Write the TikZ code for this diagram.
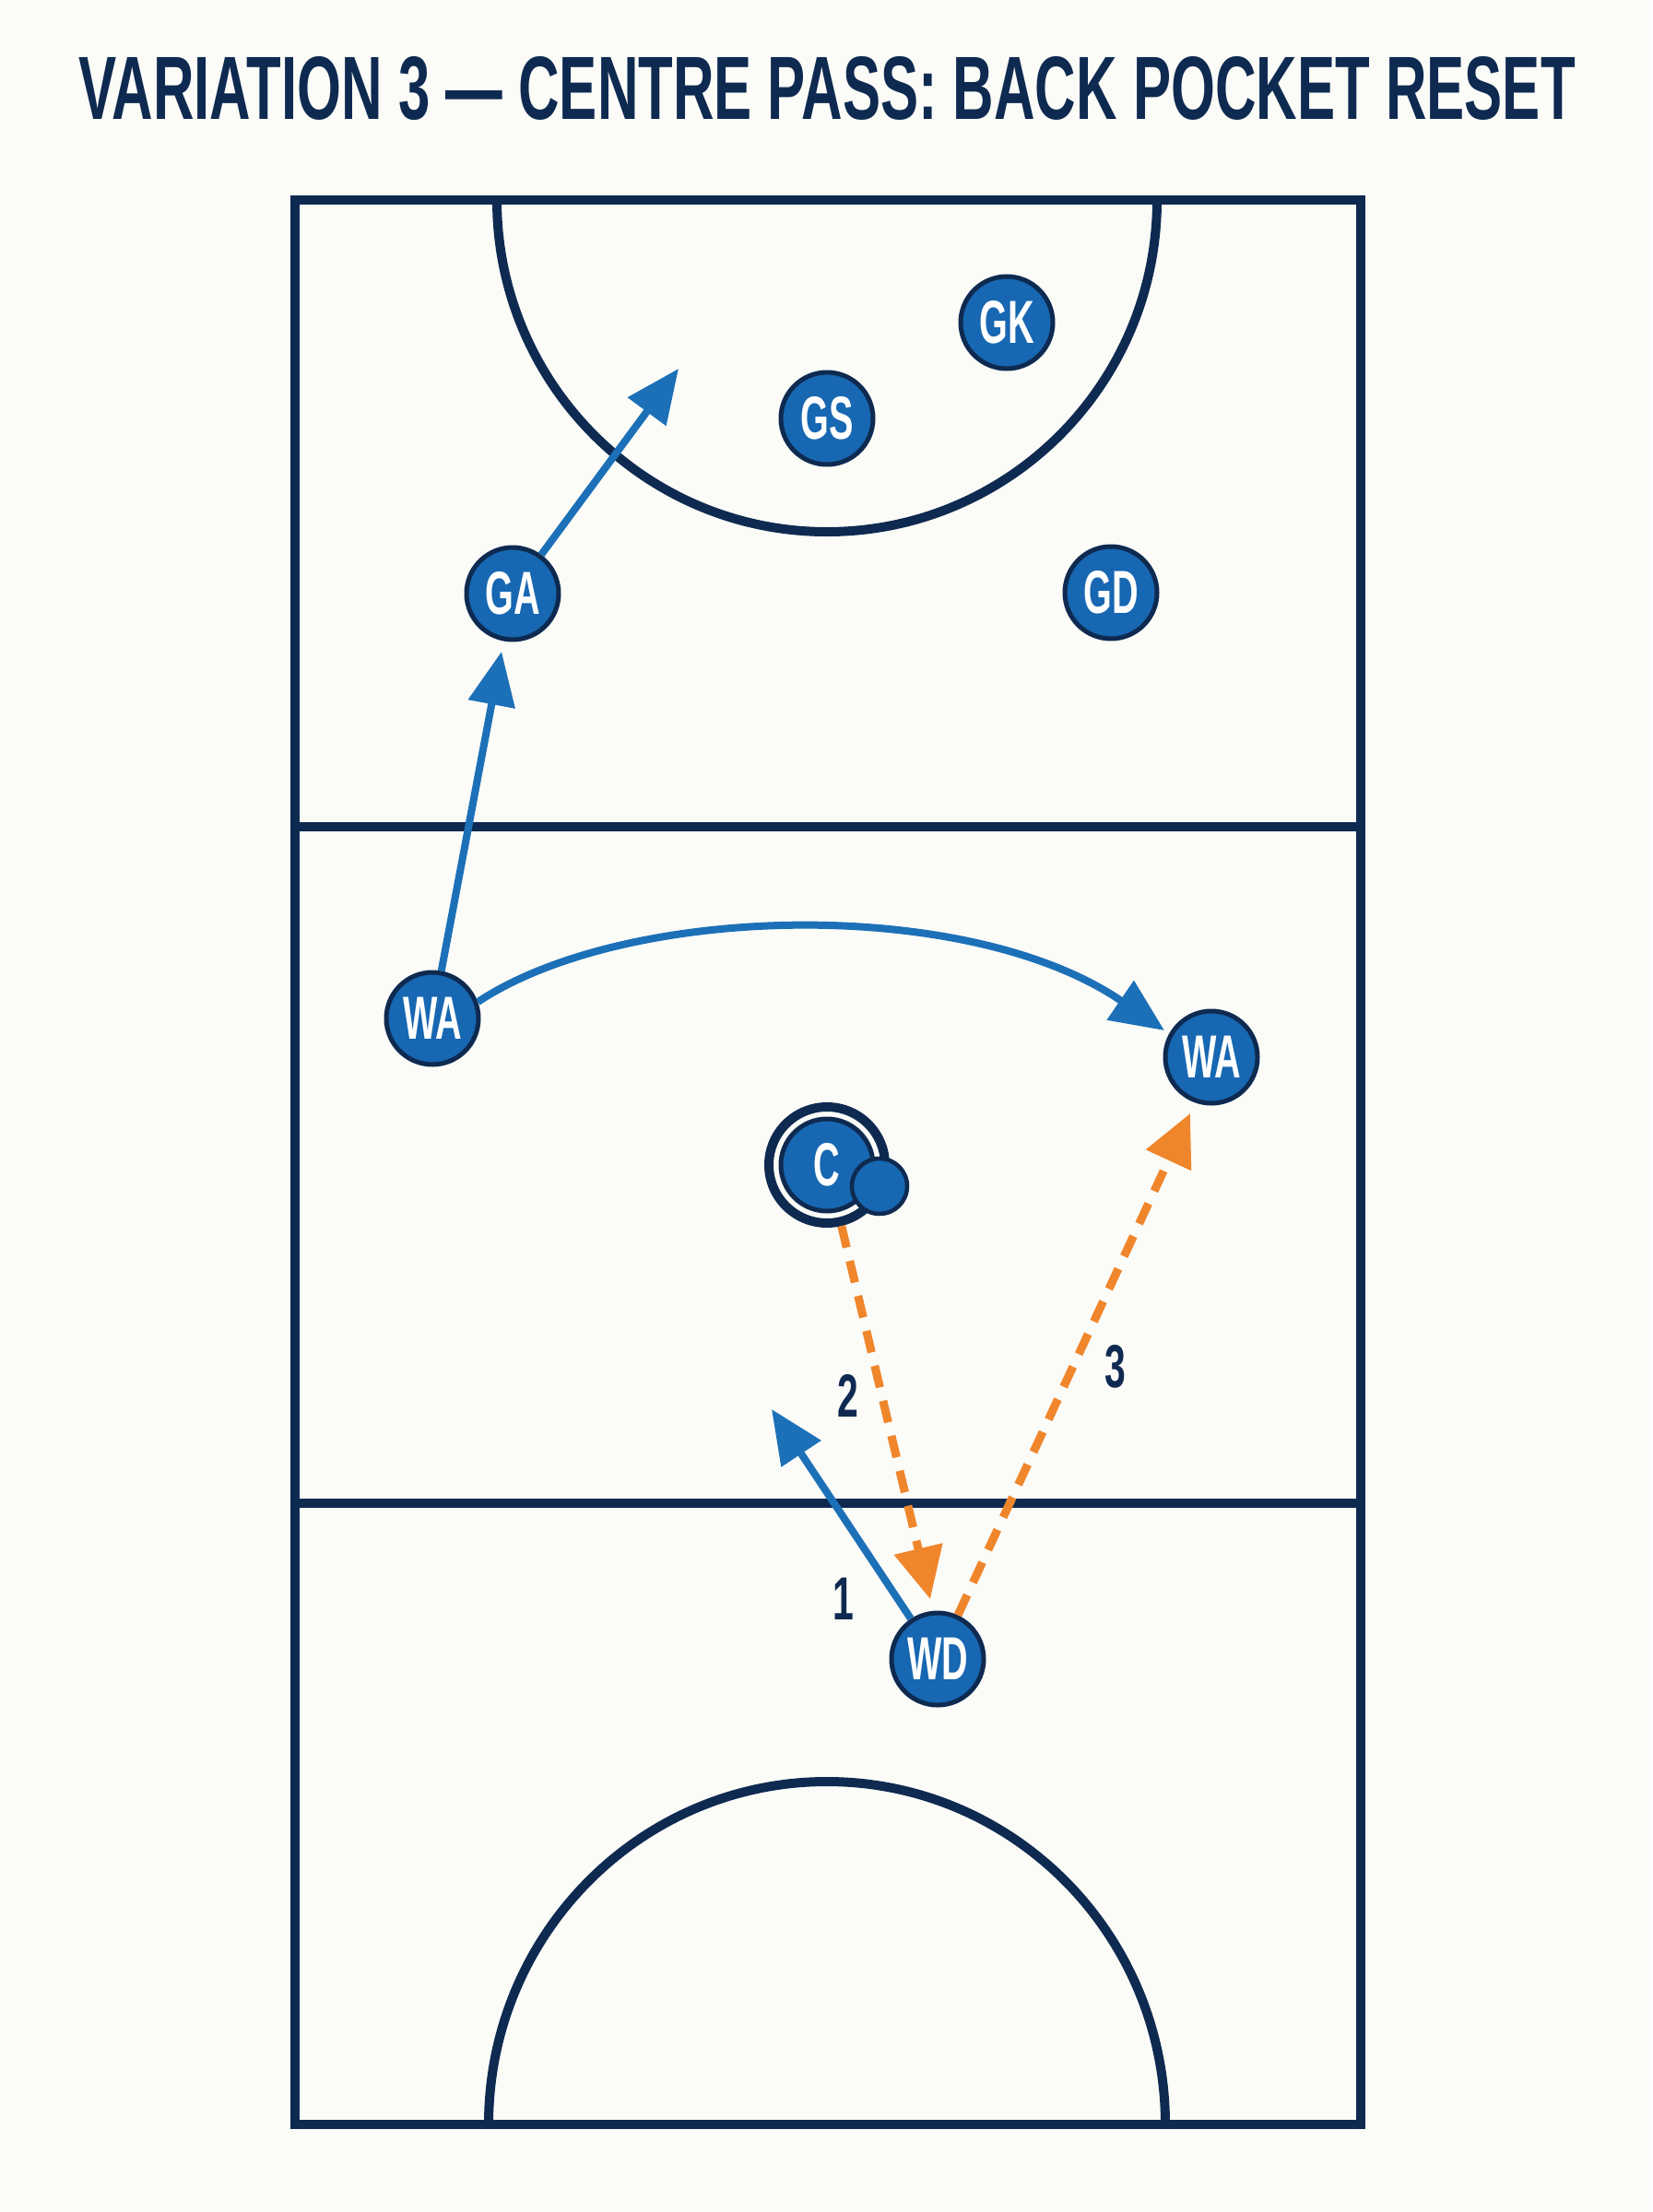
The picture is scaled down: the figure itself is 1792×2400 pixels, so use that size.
\documentclass[tikz,border=0pt]{standalone}
\usepackage{fontspec}
\usepackage{graphicx}
\setmainfont{Liberation Sans}
\usetikzlibrary{arrows.meta}
\definecolor{bgc}{HTML}{FBFBF8}
\definecolor{navy}{HTML}{0E2A50}
\definecolor{nodeblue}{HTML}{1767B2}
\definecolor{arrowblue}{HTML}{1C70B8}
\definecolor{passorange}{HTML}{F0862C}
\newcommand{\plabel}[1]{\scalebox{0.6}[1]{\fontsize{66}{66}\selectfont\bfseries #1}}
\newcommand{\nlabel}[1]{\scalebox{0.62}[1]{\fontsize{66}{66}\selectfont\bfseries #1}}
\tikzset{
  court/.style={draw=navy, line width=10pt},
  player/.style={circle, minimum size=100pt, inner sep=0pt, fill=nodeblue, draw=navy, line width=5pt, text=white},
  runarrow/.style={draw=arrowblue, line width=8pt, -{Triangle[length=58pt,width=50pt]}},
  passarrow/.style={draw=passorange, line width=9pt, dash pattern=on 24pt off 15pt, -{Triangle[length=56pt,width=52pt]}},
  numlabel/.style={text=navy, inner sep=0pt}
}
\begin{document}
\begin{tikzpicture}[x=1pt, y=-1pt]
\fill[bgc] (0,0) rectangle (1792,2400);
\useasboundingbox (0,0) rectangle (1792,2400);
% title
\node[text=navy, inner sep=0pt] (title) at (897,96) {\resizebox{1623pt}{68pt}{\bfseries VARIATION 3 — CENTRE PASS: BACK POCKET RESET}};
% court
\draw[court] (320,217) rectangle (1476,2305);
\draw[court] (320,897) -- (1476,897);
\draw[court] (320,1631) -- (1476,1631);
\draw[court] (539,217) arc[start angle=180, end angle=0, x radius=358, y radius=360];
\draw[court] (530,2305) arc[start angle=180, end angle=360, x radius=367, y radius=372];
% players
\node[player] (GK) at (1092,350) {\plabel{GK}};
\node[player] (GS) at (897,454) {\plabel{GS}};
\node[player] (GA) at (556,644) {\plabel{GA}};
\node[player] (GD) at (1205,643) {\plabel{GD}};
\node[player] (WAL) at (469,1105) {\plabel{WA}};
\node[player] (WAR) at (1314,1147) {\plabel{WA}};
\node[player] (WD) at (1017,1800) {\plabel{WD}};
\node[circle, minimum size=126pt, inner sep=0pt, draw=navy, line width=10pt] (Cring) at (897,1264) {};
\node[player] (C) at (897,1264) {\plabel{C}};
\node[circle, minimum size=60pt, inner sep=0pt, fill=nodeblue, draw=navy, line width=4.5pt] (ball) at (954,1287) {};
% free ends
\coordinate (gaT) at (736,400);
\coordinate (gaIn) at (544,707);
\coordinate (warT) at (1263,1118);
\coordinate (wdRun) at (837,1529);
\coordinate (wdIn) at (1009,1735);
\coordinate (warIn) at (1291,1208);
% runs
\draw[runarrow] (GA) -- (gaT);
\draw[runarrow] (WAL) -- (gaIn);
\draw[runarrow] (WAL.20) .. controls (680,980) and (1050,972) .. (warT);
\draw[runarrow] (WD) -- (wdRun);
% passes
\draw[passarrow] (Cring) -- (wdIn);
\draw[passarrow] (WD) -- (warIn);
% labels
\node[numlabel] (n1) at (915,1735) {\nlabel{1}};
\node[numlabel] (n2) at (920,1514) {\nlabel{2}};
\node[numlabel] (n3) at (1210,1483) {\nlabel{3}};
\end{tikzpicture}
\end{document}
